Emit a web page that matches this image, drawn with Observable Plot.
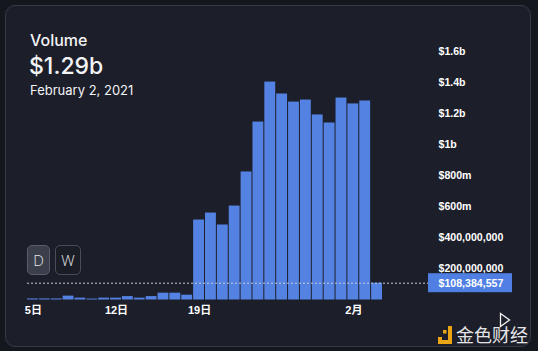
<!DOCTYPE html>
<html>
<head>
<meta charset="utf-8">
<script src="https://cdn.jsdelivr.net/npm/d3@7"></script>
<script src="https://cdn.jsdelivr.net/npm/@observablehq/plot@0.6"></script>
<style>
  html, body { margin: 0; padding: 0; }
  body { width: 538px; height: 351px; background: #15171f; position: relative; overflow: hidden; font-family: Inter, "Noto Sans", sans-serif; }
  #card { position: absolute; left: 5px; top: 5px; width: 524px; height: 340px; background: #1c1e29; border: 1px solid #373a46; border-radius: 10px; }
  .t { position: absolute; color: #f2f3f5; white-space: nowrap; }
  #chart { position: absolute; left: 0; top: 0; }
  .btn { position: absolute; box-sizing: border-box; border-radius: 5px; color: #e6e7ea; font: 300 15px "Open Sans", sans-serif; display: flex; align-items: center; justify-content: center; }
</style>
</head>
<body>
<div id="card"></div>
<div class="t" style="left:30px;top:30px;font-size:16px;font-weight:500;">Volume</div>
<div class="t" style="left:29px;top:52px;font-size:23px;font-weight:500;">$1.29b</div>
<div class="t" style="left:30px;top:82px;font-size:13px;">February 2, 2021</div>
<div id="chart"></div>
<div class="btn" style="left:27px;top:245px;width:23px;height:30px;background:#3b3e4b;border:1px solid #5b5e6a;">D</div>
<div class="btn" style="left:55px;top:245px;width:26px;height:30px;background:#1a1c26;border:1px solid #4a4d58;">W</div>
<svg style="position:absolute;left:498px;top:311px" width="14" height="18"><path d="M2.5,2.5 L11.5,9 L2.5,15.5 Z" fill="none" stroke="#f0f0f0" stroke-width="1.3"/></svg>
<svg style="position:absolute;left:436px;top:325px" width="18" height="20">
  <path d="M2,12 L2,19 L16,19 L16,1 L12,1 L12,15 L6,15 L6,12 Z" fill="#e9a514"/>
  <rect x="7" y="5" width="3.5" height="3.5" fill="#e9a514"/>
</svg>
<div class="t" style="left:456px;top:321px;font-size:18px;color:#e4e4e6;font-family:'Noto Sans CJK SC',sans-serif;">金色财经</div>
<script>
const dates = ["2021-01-05","2021-01-06","2021-01-07","2021-01-08","2021-01-09","2021-01-10","2021-01-11","2021-01-12","2021-01-13","2021-01-14","2021-01-15","2021-01-16","2021-01-17","2021-01-18","2021-01-19","2021-01-20","2021-01-21","2021-01-22","2021-01-23","2021-01-24","2021-01-25","2021-01-26","2021-01-27","2021-01-28","2021-01-29","2021-01-30","2021-01-31","2021-02-01","2021-02-02","2021-02-03"];
// volume in millions of USD
const volumes = [7, 7, 7, 25, 12, 6, 12, 12, 22, 12, 22, 44, 44, 31, 516, 561, 484, 606, 826, 1148, 1406, 1329, 1277, 1290, 1194, 1142, 1303, 1265, 1284, 108.384557];
const xTicks = ["2021-01-05","2021-01-12","2021-01-19","2021-02-01"];
const xTickLabels = ["5日","12日","19日","2月"];
const yTicks = [200, 400, 600, 800, 1000, 1200, 1400, 1600];
const yTickLabels = ["$200,000,000","$400,000,000","$600m","$800m","$1b","$1.2b","$1.4b","$1.6b"];
const highlightValue = 108.384557;
const highlightLabel = "$108,384,557";

const data = dates.map((d, i) => ({date: d, value: volumes[i]}));
const W = 538, H = 351;
const plot = Plot.plot({
  width: W, height: H,
  marginLeft: 27, marginRight: 110, marginTop: 51.5, marginBottom: 51.5,
  style: {background: "transparent", color: "#ffffff", overflow: "visible"},
  x: {type: "band", domain: dates, range: [27, 383], padding: 0, round: false, axis: null, label: null},
  y: {domain: [0, 1600], range: [299.5, 51.5], axis: null, label: null},
  marks: [
    Plot.barY(data, {x: "date", y: "value", fill: "#5482e3", insetRight: 1}),
    Plot.axisX({ticks: xTicks, tickFormat: d => xTickLabels[xTicks.indexOf(d)], label: null, tickSize: 0, tickPadding: 6, fill: "#ffffff", fontWeight: "bold", fontSize: 11, fontFamily: "'Liberation Sans', 'Noto Sans CJK SC', sans-serif"}),
    Plot.axisY({anchor: "right", ticks: yTicks, tickFormat: d => yTickLabels[yTicks.indexOf(d)], label: null, tickSize: 0, tickPadding: 10, textAnchor: "start", fill: "#ffffff", fontWeight: "bold", fontSize: 10.6, fontFamily: "'Liberation Sans', sans-serif"}),
    Plot.ruleY([highlightValue], {stroke: "#c9ccd4", strokeDasharray: "2,2", strokeWidth: 1}),
    Plot.text([highlightValue], {y: d => d, text: () => highlightLabel, frameAnchor: "right", dx: 10, textAnchor: "start", fill: "#ffffff", fontWeight: "bold", fontSize: 10.6, fontFamily: "'Liberation Sans', sans-serif"})
  ]
});
document.getElementById("chart").appendChild(plot);
// highlight box behind value label, positioned from the y scale
const yScale = plot.scale("y");
const yc = yScale.apply(highlightValue);
const ns = "http://www.w3.org/2000/svg";
const rect = document.createElementNS(ns, "rect");
rect.setAttribute("x", W - 110);
rect.setAttribute("y", yc - 9.5);
rect.setAttribute("width", 84);
rect.setAttribute("height", 19);
rect.setAttribute("fill", "#4f7fe3");
const textG = plot.querySelector('g[aria-label="text"]');
textG.parentNode.insertBefore(rect, textG);
</script>
</body>
</html>
